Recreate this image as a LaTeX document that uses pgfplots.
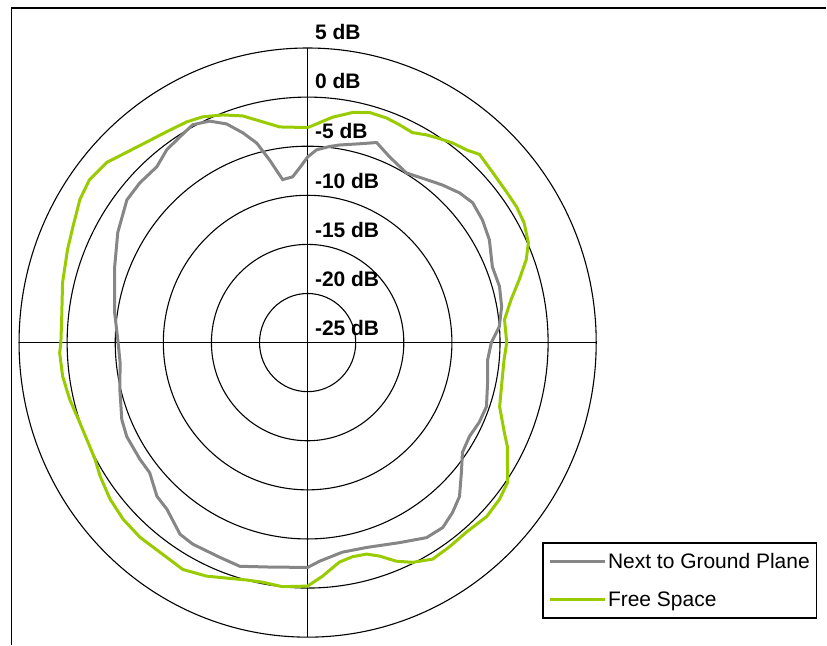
\documentclass[border=0pt]{standalone}
\usepackage{fontspec}
\setmainfont{Liberation Sans}
\usepackage{pgfplots}
\usepackage{pgfplotstable}
\pgfplotsset{compat=1.18}
\definecolor{gp}{RGB}{134,134,134}
\definecolor{fs}{RGB}{153,204,0}

\pgfplotstableread{
a db
0 -6.1
2.7 -5.35
6.5 -4.9
9.4 -4.6
14.9 -4.05
19.4 -3.4
24.2 -4.25
30.7 -4.9
36.7 -4.3
41.1 -3.7
46.0 -3.05
50.3 -2.7
55.5 -2.95
61.0 -3.4
68.1 -4.3
74.0 -4.25
79.7 -4.5
85.3 -5.0
90 -5.9
95.3 -6.2
101.4 -5.9
109.3 -5.3
114.5 -5.4
119.6 -5.65
124.8 -5.4
129.6 -4.25
134.8 -2.75
139.0 -2.05
143.3 -1.5
148.1 -1.6
154.9 -2.5
163.6 -3.25
170.4 -3.35
176.8 -2.7
180 -2.1
189.8 -1.8
197.2 -1.15
202.7 -1.3
210.2 -1.25
214.2 -1.4
220.8 -2.6
225.0 -2.85
231.1 -3.9
235.7 -3.9
243.0 -3.9
247.9 -4.15
256.2 -4.9
264.1 -5.4
270 -5.3
278.7 -4.7
291.1 -3.5
299.6 -2.3
307.7 -1.25
313.0 -1.15
318.8 -1.2
323.3 -0.5
327.6 -0.2
331.7 0.2
335.7 -0.25
339.3 -1.2
342.5 -2.6
345.4 -4.0
348.0 -6.0
351.1 -8.2
354.7 -8.05
357.3 -7.2
360 -6.1
}\groundtab

\pgfplotstableread{
a db
0 -3.1
1.3 -2.9
6.45 -1.9
11.3 -1.1
15.4 -0.7
19.7 -0.7
23.3 -0.85
27.0 -1.0
30.3 -0.5
33.5 -0.1
36.5 0.3
40.1 0.65
43.0 1.2
47.8 0.9
53.4 0.75
57.5 0.75
61.5 0.6
66.1 0.1
69.6 -0.75
73.8 -2.1
78.3 -3.4
83.5 -4.4
90 -4.3
94.8 -4.5
101.4 -4.4
108.1 -4.0
114.1 -2.6
117.0 -1.7
124.4 0.2
128.7 0.55
133.6 0.7
139.5 0.4
144.7 0.5
149.5 0.6
154.0 -0.1
157.5 -0.9
161.0 -2.0
164.1 -2.6
167.9 -2.7
171.6 -2.4
176.3 -1.15
180 -0.2
186.0 0.0
190.8 -0.15
194.7 0.0
203.8 1.0
209.3 1.5
215.7 1.3
221.3 1.4
226.8 1.3
232.2 1.0
237.8 0.5
241.7 0.1
244.9 0.0
251.0 0.05
256.8 0.4
262.3 0.7
267.7 0.8
270 0.65
275.9 0.7
283.5 1.2
290.8 1.7
295.8 2.1
301.6 2.8
306.2 3.1
311.3 2.8
315.9 2.0
320.7 1.4
325.7 1.0
330.8 0.75
334.6 0.45
339.2 -0.2
343.7 -0.95
348.3 -2.05
352.5 -2.85
360 -3.1
}\freetab

\begin{document}
\begin{tikzpicture}
\begin{axis}[
  x=9.63pt, y=9.83pt,
  xmin=-31.98, xmax=53.89, ymin=-30.82, ymax=34.89,
  scale only axis, hide axis, clip=false,
  legend style={at={(axis cs:24.40,-20.35)}, anchor=north west, draw=black, line width=1.5pt, fill=white,
    inner xsep=5pt, inner ysep=8pt, row sep=18pt, cells={anchor=west},
    font=\fontsize{21}{25}\selectfont},
  legend image code/.code={\draw[#1] (0pt,0pt) -- (55pt,0pt);},
]
\path (rel axis cs:0,0) rectangle (rel axis cs:1,1);
% frame
\draw[line width=2pt] (axis cs:-30.79,34.03) -- (axis cs:53.89,34.03);
\draw[line width=1.5pt] (axis cs:-30.79,34.03) -- (axis cs:-30.79,-30.82);
% grid
\pgfplotsinvokeforeach{5,10,15,20,25,30}{
  \draw[black, line width=1.1pt] (axis cs:0,0) ellipse [x radius=#1, y radius=#1];
}
\draw[black, line width=1.3pt] (axis cs:-30,0) -- (axis cs:30,0);
\draw[black, line width=1.3pt] (axis cs:0,-30) -- (axis cs:0,30);

\addplot[gp, line width=3pt, no markers] table[
  x expr={(\thisrow{db}+25)*sin(\thisrow{a})},
  y expr={(\thisrow{db}+25)*cos(\thisrow{a})}] {\groundtab};
\addlegendentry{Next to Ground Plane}
\addplot[fs, line width=3pt, no markers] table[
  x expr={(\thisrow{db}+25)*sin(\thisrow{a})},
  y expr={(\thisrow{db}+25)*cos(\thisrow{a})}] {\freetab};
\addlegendentry{Free Space}

\tikzset{dblab/.style={anchor=west, inner sep=0pt, font=\fontsize{21}{25}\selectfont\bfseries}}
\node[dblab] at (axis cs:0.75,31.6) {5 dB};
\node[dblab] at (axis cs:0.75,26.6) {0 dB};
\node[dblab] at (axis cs:0.75,21.5) {-5 dB};
\node[dblab] at (axis cs:0.75,16.5) {-10 dB};
\node[dblab] at (axis cs:0.75,11.5) {-15 dB};
\node[dblab] at (axis cs:0.75,6.5) {-20 dB};
\node[dblab] at (axis cs:0.75,1.5) {-25 dB};
\end{axis}
\end{tikzpicture}
\end{document}
